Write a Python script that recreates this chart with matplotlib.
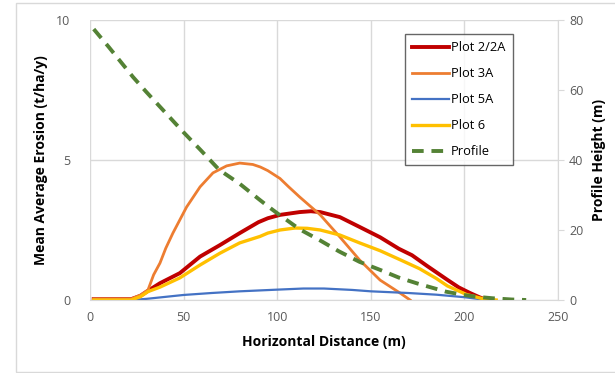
import matplotlib.pyplot as plt
from matplotlib.patches import Rectangle

plt.rcParams['font.family'] = ['Open Sans', 'DejaVu Sans']

# Erosion series (t/ha/y) along horizontal distance (m)
x_red = [2, 22, 27, 31, 37.4, 48, 58.8, 69.4, 80, 90, 95, 101.5, 112, 118, 123, 133.5, 144, 155, 165, 172, 180, 190.7, 197, 203, 208, 212]
red = [0.03, 0.03, 0.15, 0.33, 0.6, 0.96, 1.55, 1.96, 2.39, 2.78, 2.92, 3.04, 3.14, 3.17, 3.14, 2.96, 2.61, 2.24, 1.83, 1.6, 1.22, 0.73, 0.45, 0.25, 0.1, 0.0]

x_orange = [2, 22, 27, 31, 34, 37.4, 40.5, 44.3, 51.6, 58.8, 65.7, 73, 80, 87, 91, 95, 101.5, 106, 112, 123, 133.5, 144, 155, 165.6, 171]
orange = [0.04, 0.04, 0.18, 0.36, 0.9, 1.32, 1.85, 2.39, 3.32, 4.04, 4.54, 4.79, 4.89, 4.84, 4.75, 4.62, 4.34, 4.05, 3.68, 3.04, 2.25, 1.43, 0.71, 0.25, 0.0]

x_blue = [2, 22, 30, 40, 50, 65, 80, 100, 114, 125, 140, 150, 170, 185, 200, 212]
blue = [0.0, 0.0, 0.04, 0.11, 0.18, 0.25, 0.31, 0.37, 0.41, 0.41, 0.36, 0.31, 0.25, 0.19, 0.1, 0.0]

x_yellow = [2, 22, 27, 31, 37.4, 48, 58.8, 69.4, 80, 90.8, 95, 101.5, 109.5, 116, 123, 133.5, 144, 155, 165.6, 176, 185, 191, 201, 209, 217]
yellow = [0.0, 0.0, 0.12, 0.3, 0.46, 0.79, 1.25, 1.67, 2.04, 2.27, 2.39, 2.5, 2.57, 2.56, 2.5, 2.32, 2.04, 1.76, 1.44, 1.12, 0.77, 0.5, 0.2, 0.06, 0.0]

# Slope profile height (m), right axis
x_profile = [2, 10, 23, 30, 40, 50, 59, 69, 80, 90, 95, 100, 112, 123, 133, 144, 155, 165, 175, 190, 200, 207, 215, 225, 233]
profile = [77.4, 72.3, 63.7, 59.5, 53.7, 47.9, 42.9, 37.2, 33.2, 28.9, 26.8, 24.8, 20.2, 17.0, 13.9, 10.9, 8.6, 6.4, 4.7, 2.4, 1.4, 0.9, 0.5, 0.15, 0.0]

fig = plt.figure(figsize=(6.15, 3.73), dpi=100)
ax = fig.add_axes([0.1463, 0.1957, 0.7610, 0.7507])
ax2 = ax.twinx()

grey = '#595959'
grid_c = '#D9D9D9'

l1, = ax.plot(x_red, red, color='#C00000', lw=2.8, solid_joinstyle='round', label='Plot 2/2A')
l2, = ax.plot(x_orange, orange, color='#ED7D31', lw=2.0, solid_joinstyle='round', label='Plot 3A')
l3, = ax.plot(x_blue, blue, color='#4472C4', lw=1.6, solid_joinstyle='round', label='Plot 5A')
l4, = ax.plot(x_yellow, yellow, color='#FFC000', lw=2.4, solid_joinstyle='round', label='Plot 6')
l5, = ax2.plot(x_profile, profile, color='#548235', lw=2.8, ls=(0, (3, 2)), label='Profile')

ax.set_xlim(0, 250)
ax.set_ylim(0, 10)
ax2.set_ylim(0, 80)
ax.set_xticks([0, 50, 100, 150, 200, 250])
ax.set_yticks([0, 5, 10])
ax2.set_yticks([0, 20, 40, 60, 80])

ax.grid(True, color=grid_c, lw=1)
ax.set_axisbelow(True)
for s in ['top', 'left', 'right']:
    ax.spines[s].set_visible(False)
ax.spines['bottom'].set_color(grid_c)
for s in ['top', 'left', 'bottom']:
    ax2.spines[s].set_visible(False)
ax2.spines['right'].set_color(grid_c)

ax.tick_params(axis='both', length=0, labelsize=9, colors=grey, pad=8)
ax.tick_params(axis='y', pad=14)
ax2.tick_params(axis='y', length=4, color=grid_c, labelsize=9, colors=grey, pad=4)

ax.set_xlabel('Horizontal Distance (m)', fontsize=10, fontweight='bold', labelpad=8)
ax.set_ylabel('Mean Average Erosion (t/ha/y)', fontsize=10, fontweight='bold', labelpad=6)
ax2.set_ylabel('Profile Height (m)', fontsize=10, fontweight='bold', labelpad=6)

leg = ax2.legend(handles=[l1, l2, l3, l4, l5], loc='upper left',
                 bbox_to_anchor=(0.66, 0.972), fontsize=9.3, frameon=True,
                 fancybox=False, edgecolor='#404040', handlelength=2.8,
                 handletextpad=0.2, labelspacing=1.0, borderpad=0.55)
leg.get_frame().set_linewidth(1.0)

fig.patches.append(Rectangle((16 / 615, 1 / 373), 1.2, 369 / 373, transform=fig.transFigure,
                             fill=False, edgecolor='#D9D9D9', lw=1))

fig.savefig('out.png', dpi=100)
